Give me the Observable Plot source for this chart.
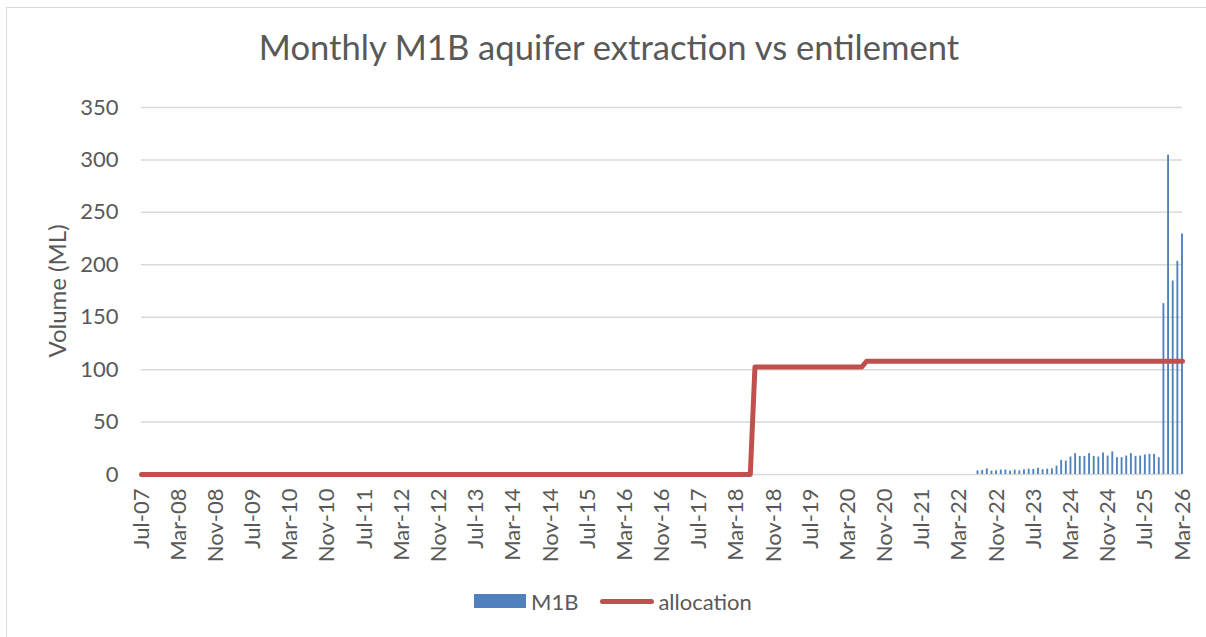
<!DOCTYPE html>
<html>
<head>
<meta charset="utf-8">
<script src="https://cdn.jsdelivr.net/npm/d3@7"></script>
<script src="https://cdn.jsdelivr.net/npm/@observablehq/plot@0.6"></script>
<style>
  html, body { margin: 0; padding: 0; background: #fff; }
  body { width: 1206px; height: 637px; overflow: hidden; position: relative; font-family: Lato, "Open Sans", sans-serif; color: #595959; }
  #frame { position: absolute; left: 6px; top: 7px; width: 1220px; height: 650px; border: 1.5px solid #d9d9d9; box-sizing: border-box; }
  #title { position: absolute; left: 0; top: 27px; width: 1218px; text-align: center; font-size: 34.6px; line-height: 40px; color: #595959; }
  #chart { position: absolute; left: 0; top: 88px; }
  #legend { position: absolute; top: 586px; left: 474px; height: 30px; display: flex; align-items: center; font-size: 22px; color: #595959; }
  .sw-bar { width: 52px; height: 14px; background: #4f81bd; margin-right: 5px; }
  .sw-line { width: 54px; height: 5px; border-radius: 3px; background: #c0504d; margin-left: 22px; margin-right: 4px; }
</style>
</head>
<body>
<div id="frame"></div>
<div id="title">Monthly M1B aquifer extraction vs entilement</div>
<div id="chart"></div>
<div id="legend"><div class="sw-bar"></div><span>M1B</span><div class="sw-line"></div><span>allocation</span></div>
<script>
// Monthly categories: Jul-07 .. Mar-26
const monthNames = ["Jan","Feb","Mar","Apr","May","Jun","Jul","Aug","Sep","Oct","Nov","Dec"];
const startYear = 2007, startMonth = 6, nMonths = 225;
const categories = Array.from({length: nMonths}, (_, i) => {
  const m = (startMonth + i) % 12;
  const y = startYear + Math.floor((startMonth + i) / 12);
  return monthNames[m] + "-" + String(y % 100).padStart(2, "0");
});

// x-axis tick labels shown
const xTickLabels = ["Jul-07","Mar-08","Nov-08","Jul-09","Mar-10","Nov-10","Jul-11","Mar-12","Nov-12","Jul-13","Mar-14","Nov-14","Jul-15","Mar-16","Nov-16","Jul-17","Mar-18","Nov-18","Jul-19","Mar-20","Nov-20","Jul-21","Mar-22","Nov-22","Jul-23","Mar-24","Nov-24","Jul-25","Mar-26"];
const yTicks = [0, 50, 100, 150, 200, 250, 300, 350];

// M1B monthly extraction (ML), starting Jul-22
const m1bStart = "Jul-22";
const m1bValues = [3.5, 3.8, 5.4, 3.2, 3.5, 4.2, 4.2, 3.2, 4.2, 3.5, 4.5, 5.1, 4.8, 5.8, 4.5, 5.1, 5.4, 8.0, 13.5, 12.8,
  16.7, 19.9, 17.3, 17.3, 19.9, 17.3, 16.7, 20.5, 17.6, 21.5, 16.0, 16.0, 17.6, 19.9, 17.3, 17.6, 18.6, 19.2, 19.2, 16.0,
  163, 304.5, 184.5, 203.3, 229.4];

// allocation (entitlement) as runs: [first month, value]
const allocationStarts = ["Jul-07", "Jul-18", "Jul-20"];
const allocationValues = [0, 102.5, 108];

const idx = Object.fromEntries(categories.map((c, i) => [c, i]));
const m1b = m1bValues.map((v, k) => ({i: idx[m1bStart] + k, v}));
const starts = allocationStarts.map(s => idx[s]);
const allocation = categories.map((c, i) => {
  let v = allocationValues[0];
  starts.forEach((s, k) => { if (i >= s) v = allocationValues[k]; });
  return {i, v};
});

const chart = Plot.plot({
  width: 1206,
  height: 490,
  marginLeft: 141,
  marginRight: 24,
  marginTop: 19,
  marginBottom: 104,
  style: {fontFamily: "Lato, 'Open Sans', sans-serif", color: "#595959", background: "transparent"},
  x: {type: "linear", domain: [0, nMonths - 1]},
  y: {domain: [0, 350]},
  marks: [
    Plot.ruleY(yTicks, {stroke: "#d9d9d9", strokeWidth: 1.5}),
    Plot.rectY(m1b, {x1: d => d.i - 0.2, x2: d => d.i + 0.2, y: "v", fill: "#4f81bd"}),
    Plot.line(allocation, {x: "i", y: "v", stroke: "#c0504d", strokeWidth: 5, strokeLinecap: "round", strokeLinejoin: "round"}),
    Plot.axisY({ticks: yTicks, tickSize: 0, tickPadding: 23, fontSize: 22, label: null}),
    Plot.axisX({ticks: xTickLabels.map(l => idx[l]), tickFormat: i => categories[i], tickRotate: -90, tickSize: 0, tickPadding: 14, fontSize: 22, label: null}),
    Plot.text(["Volume (ML)"], {frameAnchor: "left", dx: -83, rotate: -90, textAnchor: "middle", fontSize: 24, fill: "#595959"})
  ]
});
document.getElementById("chart").appendChild(chart);
</script>
</body>
</html>
